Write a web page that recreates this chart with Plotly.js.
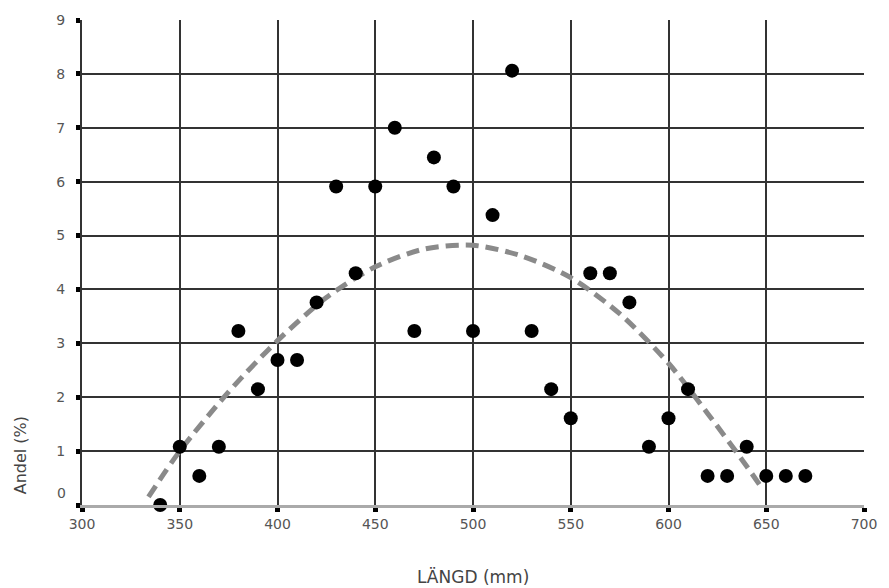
<!DOCTYPE html>
<html>
<head>
<meta charset="utf-8">
<script src="https://cdn.plot.ly/plotly-3.0.1.min.js"></script>
<style>html,body{margin:0;padding:0;background:#fff;}#chart{width:889px;height:588px;}</style>
</head>
<body>
<div id="chart"></div>
<script>
// Observed points: length (mm) and share (%)
var lengthMm = [340, 350, 360, 370, 380, 390, 400, 410, 420, 430, 440, 450, 460, 470, 480, 490, 500, 510, 520, 530, 540, 550, 560, 570, 580, 590, 600, 610, 620, 630, 640, 650, 660, 670];
var sharePct = [0.0, 1.08, 0.54, 1.08, 3.23, 2.15, 2.69, 2.69, 3.76, 5.91, 4.30, 5.91, 7.00, 3.23, 6.45, 5.91, 3.23, 5.38, 8.06, 3.23, 2.15, 1.61, 4.30, 4.30, 3.76, 1.08, 1.61, 2.15, 0.54, 0.54, 1.08, 0.54, 0.54, 0.54];

// Trend curve
var trendX = [334, 350, 375, 400, 425, 450, 475, 500, 525, 550, 575, 600, 620, 640, 648];
var trendY = [0.15, 1.0, 2.1, 3.05, 3.85, 4.42, 4.75, 4.82, 4.62, 4.22, 3.55, 2.63, 1.7, 0.72, 0.3];

var xTicks = [300, 350, 400, 450, 500, 550, 600, 650, 700];
var yTicks = [0, 1, 2, 3, 4, 5, 6, 7, 8, 9];

var traces = [
  {
    x: trendX, y: trendY, type: 'scatter', mode: 'lines',
    line: {color: '#8a8a8a', width: 5, dash: '13px,7px', shape: 'spline', smoothing: 0.8},
    hoverinfo: 'skip', cliponaxis: false
  },
  {
    x: lengthMm, y: sharePct, type: 'scatter', mode: 'markers',
    marker: {color: '#000', size: 14, symbol: 'circle'},
    cliponaxis: false
  }
];

var FONT = 'DejaVu Sans, Verdana, sans-serif';

var layout = {
  width: 889, height: 588,
  margin: {l: 82, r: 25, t: 20, b: 83},
  paper_bgcolor: '#fff', plot_bgcolor: '#fff',
  showlegend: false,
  font: {family: FONT, color: '#444', size: 14},
  xaxis: {
    range: [300, 700], tickvals: xTicks, ticktext: xTicks.map(String),
    showgrid: true, gridcolor: '#333', gridwidth: 2,
    zeroline: false, showline: true, linecolor: '#aaa', linewidth: 3,
    ticks: 'outside', ticklen: 4, tickwidth: 5, tickcolor: '#000',
    tickfont: {family: FONT, size: 14, color: '#555'},
    title: {text: ''}
  },
  yaxis: {
    range: [0, 9], tickvals: yTicks,
    ticktext: yTicks.map(function (v) { return v === 0 ? '' : String(v); }),
    showgrid: true, gridcolor: '#333', gridwidth: 2,
    zeroline: false, showline: true, linecolor: '#333', linewidth: 2,
    ticks: 'outside', ticklen: 4, tickwidth: 5, tickcolor: '#000',
    ticklabelstandoff: 8,
    tickfont: {family: FONT, size: 14, color: '#555'},
    title: {text: ''}
  },
  annotations: [
    {text: String(yTicks[0]), xref: 'paper', yref: 'y', x: 0, y: yTicks[0], yshift: 12, xshift: -14,
     showarrow: false, xanchor: 'right', yanchor: 'middle', font: {family: FONT, size: 14, color: '#555'}},
    {text: 'Andel (%)', xref: 'paper', yref: 'paper', x: -0.079, y: 0.103,
     textangle: -90, showarrow: false, font: {family: FONT, size: 16, color: '#444'},
     xanchor: 'center', yanchor: 'middle'},
    {text: 'LÄNGD (mm)', xref: 'paper', yref: 'paper', x: 0.5, y: -0.148,
     showarrow: false, font: {family: FONT, size: 17, color: '#444'},
     xanchor: 'center', yanchor: 'middle'}
  ]
};

Plotly.newPlot('chart', traces, layout, {displayModeBar: false, staticPlot: true});
</script>
</body>
</html>
